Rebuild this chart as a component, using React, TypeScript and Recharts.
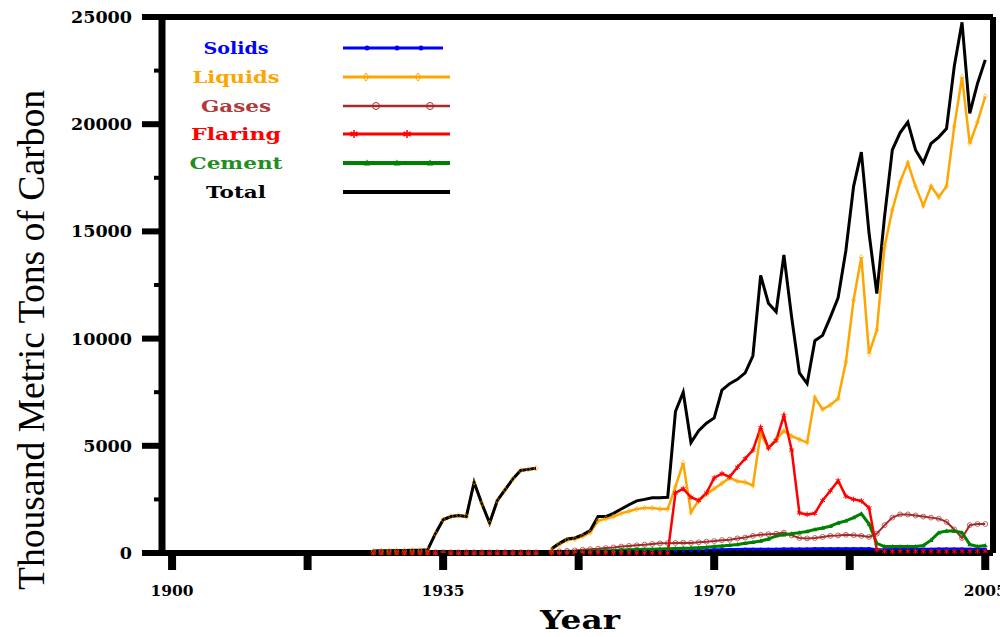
import React from 'react';
import { LineChart, Line, XAxis, YAxis, ReferenceLine, Legend } from 'recharts';

const years = [
  1926, 1927, 1928, 1929, 1930, 1931, 1932, 1933, 1934, 1935,
  1936, 1937, 1938, 1939, 1940, 1941, 1942, 1943, 1944, 1945,
  1946, 1947, 1948, 1949, 1950, 1951, 1952, 1953, 1954, 1955,
  1956, 1957, 1958, 1959, 1960, 1961, 1962, 1963, 1964, 1965,
  1966, 1967, 1968, 1969, 1970, 1971, 1972, 1973, 1974, 1975,
  1976, 1977, 1978, 1979, 1980, 1981, 1982, 1983, 1984, 1985,
  1986, 1987, 1988, 1989, 1990, 1991, 1992, 1993, 1994, 1995,
  1996, 1997, 1998, 1999, 2000, 2001, 2002, 2003, 2004, 2005,
];

const solids = [
  0, 0, 0, 0, 0, 0, 0, 0, 0, 0,
  0, 0, 0, 0, 0, 0, 0, 0, 0, 0,
  0, 0, null, 0, 0, 0, 0, 0, 0, 30,
  40, 50, 50, 60, 60, 70, 70, 80, 80, 90,
  90, 100, 110, 120, 150, 150, 160, 160, 170, 170,
  180, 180, 180, 190, 190, 190, 190, 200, 200, 200,
  200, 200, 200, 200, 200, 150, 150, 160, 170, 170,
  180, 180, 180, 190, 190, 190, 190, 180, 180, 180,
];

const liquids = [
  90, 100, 110, 120, 120, 130, 130, 150, 900, 1550,
  1700, 1750, 1700, 3300, 2300, 1400, 2450, 2950, 3450, 3850,
  3900, 3950, null, 150, 400, 600, 650, 780, 950, 1500,
  1600, 1700, 1850, 1950, 2050, 2100, 2100, 2050, 2050, 3100,
  4200, 1900, 2450, 2750, 3000, 3250, 3500, 3350, 3300, 3150,
  5570, 4900, 5300, 5700, 5450, 5300, 5150, 7250, 6700, 6900,
  7200, 8900, 11800, 13800, 9300, 10400, 14300, 16000, 17300, 18200,
  17100, 16200, 17100, 16600, 17100, 19900, 22200, 19100, 20100, 21300,
];

const gases = [
  30, 30, 30, 30, 30, 30, 30, 30, 30, 30,
  30, 30, 30, 30, 30, 30, 30, 30, 30, 30,
  30, 30, null, 50, 80, 100, 120, 150, 180, 200,
  230, 260, 300, 330, 360, 390, 420, 450, 460, 470,
  480, 470, 500, 530, 560, 600, 620, 680, 720, 800,
  850, 880, 900, 950, 820, 700, 680, 700, 750, 800,
  820, 850, 830, 800, 750, 900, 1300, 1650, 1800, 1800,
  1750, 1700, 1650, 1600, 1450, 1100, 700, 1300, 1350, 1350,
];

const flaring = [
  0, 0, 0, 0, 0, 0, 0, 0, 0, 0,
  0, 0, 0, 0, 0, 0, 0, 0, 0, 0,
  0, 0, null, 0, 0, 0, 0, 0, 0, 0,
  0, 0, 0, 0, 0, 0, 0, 0, 0, 2800,
  3000, 2600, 2450, 2800, 3500, 3700, 3550, 4000, 4400, 4800,
  5850, 4900, 5250, 6400, 4800, 1870, 1800, 1850, 2450, 2900,
  3370, 2650, 2500, 2430, 2100, 150, 80, 80, 80, 80,
  80, 80, 80, 80, 80, 80, 80, 80, 80, 80,
];

const cement = [
  10, 10, 10, 10, 10, 10, 10, 10, 10, 10,
  10, 10, 10, 10, 10, 10, 10, 10, 10, 10,
  10, 10, null, 30, 40, 50, 60, 70, 80, 100,
  110, 120, 140, 150, 160, 170, 180, 190, 200, 210,
  220, 230, 250, 270, 300, 330, 360, 400, 450, 500,
  560, 650, 800, 850, 900, 950, 1000, 1100, 1170, 1250,
  1400, 1500, 1650, 1830, 1350, 450, 300, 300, 300, 300,
  300, 350, 600, 950, 1030, 1030, 950, 400, 300, 350,
];

const total = [
  90, 100, 110, 120, 120, 130, 130, 150, 900, 1550,
  1700, 1750, 1700, 3300, 2300, 1400, 2450, 2950, 3450, 3850,
  3900, 3950, null, 200, 450, 650, 700, 850, 1050, 1700,
  1700, 1850, 2050, 2250, 2430, 2500, 2580, 2580, 2600, 6600,
  7500, 5150, 5700, 6050, 6300, 7600, 7900, 8100, 8400, 9200,
  12950, 11650, 11250, 13900, 11000, 8400, 7900, 9900, 10150, 11000,
  11900, 14100, 17100, 18700, 14900, 12100, 15700, 18800, 19600, 20100,
  18800, 18200, 19100, 19400, 19800, 22700, 24750, 20500, 21900, 23000,
];

const xTicks = [1900, 1917.5, 1935, 1952.5, 1970, 1987.5, 2005];
const xLabels = [1900, 1935, 1970, 2005];
const yTicks = [0, 2500, 5000, 7500, 10000, 12500, 15000, 17500, 20000, 22500, 25000];

const data = years.map((year, i) => ({
  year,
  solids: solids[i],
  liquids: liquids[i],
  gases: gases[i],
  flaring: flaring[i],
  cement: cement[i],
  total: total[i],
}));

const PLOT_LEFT = 162;
const PLOT_BOTTOM = 553;
const SERIF_BOLD = '"DejaVu Serif", serif';

const BLUE = '#0000ff';
const ORANGE = '#ffa500';
const BROWN = '#a52a2a';
const RED = '#ff0000';
const GREEN = '#008000';

// marker shapes; s scales them (legend uses bigger ones than the data)
const marker = (kind: string, x: number, y: number, color: string, key: string, s = 1) => {
  if (kind === 'circle') return <circle key={key} cx={x} cy={y} r={2.5 * s} fill={color} />;
  if (kind === 'diamond')
    return (
      <path
        key={key}
        d={`M${x},${y - 4 * s}L${x + 3 * s},${y}L${x},${y + 4 * s}L${x - 3 * s},${y}Z`}
        fill="none"
        stroke={color}
        strokeWidth={1}
        opacity={s < 1 ? 0.6 : 1}
      />
    );
  if (kind === 'ring')
    return <circle key={key} cx={x} cy={y} r={3.5 * s} fill="none" stroke={color} strokeWidth={1} opacity={s < 1 ? 0.7 : 1} />;
  if (kind === 'star')
    return (
      <g key={key} stroke={color} strokeWidth={s < 1 ? 1 : 1.5}>
        <line x1={x} y1={y - 4 * s} x2={x} y2={y + 4 * s} />
        <line x1={x - 3.5 * s} y1={y - 2 * s} x2={x + 3.5 * s} y2={y + 2 * s} />
        <line x1={x - 3.5 * s} y1={y + 2 * s} x2={x + 3.5 * s} y2={y - 2 * s} />
      </g>
    );
  if (kind === 'tri')
    return <path key={key} d={`M${x},${y - 3.5 * s}L${x + 3.5 * s},${y + 2.5 * s}L${x - 3.5 * s},${y + 2.5 * s}Z`} fill={color} />;
  return <g key={key} />;
};

const dotFor = (kind: string, color: string) => (props: any) => {
  const { cx, cy, index, value } = props;
  const key = `${kind}-${index}`;
  if (cx == null || cy == null || value == null) return <g key={key} />;
  return marker(kind, cx, cy, color, key, 0.7);
};

const YTick = ({ y, payload }: any) => {
  const v = payload.value as number;
  const major = v % 5000 === 0;
  const label = String(v);
  return (
    <g>
      <line x1={major ? 142 : 154} x2={PLOT_LEFT} y1={y} y2={y} stroke="#000" strokeWidth={major ? 6 : 4} />
      {major && (
        <text
          x={132}
          y={y + 6}
          textAnchor="end"
          fontFamily={SERIF_BOLD}
          fontWeight="bold"
          fontSize={16}
          textLength={label.length * 12.2}
          lengthAdjust="spacingAndGlyphs"
          fill="#000"
        >
          {label}
        </text>
      )}
    </g>
  );
};

const XTick = ({ x, payload }: any) => {
  const v = payload.value as number;
  const show = xLabels.includes(v);
  return (
    <g>
      <line x1={x} x2={x} y1={PLOT_BOTTOM} y2={570} stroke="#000" strokeWidth={8} />
      {show && (
        <text
          x={x}
          y={596}
          textAnchor="middle"
          fontFamily={SERIF_BOLD}
          fontWeight="bold"
          fontSize={15}
          textLength={43}
          lengthAdjust="spacingAndGlyphs"
          fill="#000"
        >
          {String(v)}
        </text>
      )}
    </g>
  );
};

const YTitle = () => (
  <text
    transform="translate(44,340) rotate(-90)"
    textAnchor="middle"
    fontFamily='"Liberation Serif", serif'
    fontSize={37}
    textLength={500}
    lengthAdjust="spacingAndGlyphs"
    fill="#000"
  >
    Thousand Metric Tons of Carbon
  </text>
);

const XTitle = () => (
  <text
    x={580}
    y={629}
    textAnchor="middle"
    fontFamily={SERIF_BOLD}
    fontWeight="bold"
    fontSize={26}
    textLength={80}
    lengthAdjust="spacingAndGlyphs"
    fill="#000"
  >
    Year
  </text>
);

const legendRows = [
  { name: 'Solids', color: BLUE, text: BLUE, y: 48, w: 65, kind: 'circle', marks: [367, 397, 421], end: 443, sw: 3 },
  { name: 'Liquids', color: ORANGE, text: ORANGE, y: 77, w: 87, kind: 'diamond', marks: [366, 418], end: 450, sw: 3 },
  { name: 'Gases', color: BROWN, text: '#b03a3a', y: 106, w: 70, kind: 'ring', marks: [376, 430], end: 450, sw: 2.5 },
  { name: 'Flaring', color: RED, text: RED, y: 134, w: 90, kind: 'star', marks: [354, 407], end: 450, sw: 3 },
  { name: 'Cement', color: GREEN, text: '#1f8f1f', y: 163, w: 93, kind: 'tri', marks: [367, 397, 430], end: 450, sw: 4 },
  { name: 'Total', color: '#000', text: '#000', y: 192, w: 60, kind: 'none', marks: [], end: 450, sw: 4 },
];

const LegendBox = () => (
  <svg width={470} height={210}>
    {legendRows.map((r) => (
      <g key={r.name}>
        <text
          x={236}
          y={r.y + 6}
          textAnchor="middle"
          fontFamily={SERIF_BOLD}
          fontWeight="bold"
          fontSize={16}
          textLength={r.w}
          lengthAdjust="spacingAndGlyphs"
          fill={r.text}
        >
          {r.name}
        </text>
        <line x1={343} x2={r.end} y1={r.y} y2={r.y} stroke={r.color} strokeWidth={r.sw} />
        {r.marks.map((m, i) => marker(r.kind, m, r.y, r.color, `${r.name}-${i}`))}
      </g>
    ))}
  </svg>
);

const App: React.FC = () => {
  return (
    <div style={{ position: 'absolute', left: 0, top: 0, width: 1000, height: 637, background: '#fff' }}>
      <LineChart width={1000} height={637} data={data} margin={{ top: 17, right: 7, left: 0, bottom: 0 }}>
        <XAxis
          dataKey="year"
          type="number"
          domain={[1898.7, 2006]}
          ticks={xTicks}
          allowDataOverflow
          height={84}
          axisLine={{ stroke: '#000', strokeWidth: 6 }}
          tickLine={false}
          tick={<XTick />}
          interval={0}
          label={<XTitle />}
        />
        <YAxis
          type="number"
          domain={[0, 25000]}
          ticks={yTicks}
          width={162}
          axisLine={{ stroke: '#000', strokeWidth: 7 }}
          tickLine={false}
          tick={<YTick />}
          interval={0}
          label={<YTitle />}
        />
        <ReferenceLine y={25000} stroke="#000" strokeWidth={6} />
        <ReferenceLine x={2006} stroke="#000" strokeWidth={6} />
        <Legend
          layout="vertical"
          align="center"
          verticalAlign="middle"
          wrapperStyle={{ left: 0, top: 0, width: 470, height: 210 }}
          content={<LegendBox />}
        />
        <Line dataKey="solids" stroke={BLUE} strokeWidth={3} dot={dotFor('circle', BLUE)} isAnimationActive={false} />
        <Line dataKey="gases" stroke={BROWN} strokeWidth={2} dot={dotFor('ring', BROWN)} isAnimationActive={false} />
        <Line dataKey="cement" stroke={GREEN} strokeWidth={3} dot={dotFor('tri', GREEN)} isAnimationActive={false} />
        <Line dataKey="liquids" stroke={ORANGE} strokeWidth={2.5} dot={dotFor('diamond', ORANGE)} isAnimationActive={false} />
        <Line dataKey="flaring" stroke={RED} strokeWidth={2.5} dot={dotFor('star', RED)} isAnimationActive={false} />
        <Line dataKey="total" stroke="#000" strokeWidth={3} dot={false} isAnimationActive={false} />
      </LineChart>
    </div>
  );
};

export default App;
